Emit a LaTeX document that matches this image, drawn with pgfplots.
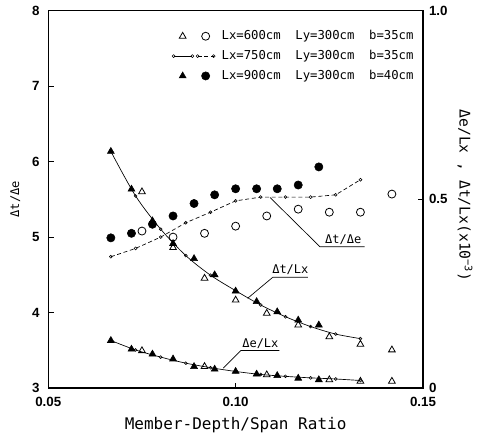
\documentclass[border=0pt]{standalone}
\usepackage{fontspec}
\setmainfont{DejaVu Sans Mono}
\newfontfamily\tickfont{Liberation Sans}
\usepackage{pgfplots}
\pgfplotsset{compat=1.18}
\usepackage{pgfplotstable}

% Delta t / Delta e (left axis)
\pgfplotstableread{
x y
0.0750 5.08
0.0833 5.00
0.0917 5.05
0.1000 5.145
0.1083 5.28
0.1167 5.37
0.1250 5.33
0.1333 5.33
0.1417 5.57
}\ratioA
\pgfplotstableread{
x y
0.0667 4.74
0.0733 4.85
0.0800 5.00
0.0867 5.19
0.0933 5.33
0.1000 5.48
0.1067 5.53
0.1133 5.53
0.1200 5.53
0.1267 5.56
0.1333 5.76
}\ratioB
\pgfplotstableread{
x y
0.0667 4.99
0.0722 5.05
0.0778 5.17
0.0833 5.28
0.0889 5.445
0.0944 5.56
0.1000 5.64
0.1056 5.64
0.1111 5.64
0.1167 5.69
0.1222 5.93
}\ratioC

% Delta t / Lx (right axis, x10^-3)
\pgfplotstableread{
x y
0.0750 0.520
0.0833 0.372
0.0917 0.291
0.1000 0.233
0.1083 0.198
0.1167 0.167
0.1250 0.136
0.1333 0.116
0.1417 0.101
}\dtA
\pgfplotstableread{
x y
0.0667 0.627
0.0733 0.509
0.0800 0.421
0.0867 0.351
0.0933 0.299
0.1000 0.258
0.1067 0.220
0.1133 0.189
0.1200 0.163
0.1267 0.143
0.1333 0.131
}\dtB
\pgfplotstableread{
x y
0.0667 0.627
0.0722 0.527
0.0778 0.443
0.0833 0.383
0.0889 0.343
0.0944 0.300
0.1000 0.257
0.1056 0.229
0.1111 0.202
0.1167 0.180
0.1222 0.167
}\dtC

% Delta e / Lx (right axis, x10^-3)
\pgfplotstableread{
x y
0.0750 0.099
0.0917 0.057
0.1083 0.035
0.1250 0.022
0.1333 0.018
0.1417 0.018
}\deA
\pgfplotstableread{
x y
0.0667 0.126
0.0733 0.101
0.0800 0.082
0.0867 0.066
0.0933 0.054
0.1000 0.044
0.1067 0.036
0.1133 0.031
0.1200 0.027
0.1267 0.024
0.1333 0.020
}\deB
\pgfplotstableread{
x y
0.0667 0.126
0.0722 0.103
0.0778 0.090
0.0833 0.077
0.0889 0.057
0.0944 0.050
0.1000 0.044
0.1056 0.037
0.1111 0.033
0.1167 0.026
0.1222 0.022
}\deC

\tikzset{
  smallc/.style={mark=o, mark size=1.1pt, mark options={solid, fill=white, line width=0.4pt}, line width=0.5pt},
}
\pgfplotsset{
  base/.style={
    scale only axis, width=281pt, height=283pt,
    xmin=0.05, xmax=0.15,
    tick align=inside, major tick length=4pt,
    axis line style={line width=1.1pt},
    every tick/.style={black, line width=0.8pt},
    ticklabel style={font=\tickfont\fontsize{10}{11}\selectfont\bfseries},
  },
  opentri/.style={only marks, mark=triangle, mark size=2.9pt, mark options={fill=white, line width=0.6pt}},
  filltri/.style={only marks, mark=triangle*, mark size=3pt, mark options={fill=black}},
  opencirc/.style={only marks, mark=o, mark size=3pt, mark options={fill=white, line width=0.6pt}},
  fillcirc/.style={only marks, mark=*, mark size=3.1pt, mark options={fill=black}},
}

\begin{document}
\begin{tikzpicture}
\begin{axis}[
  base,
  ymin=3, ymax=8,
  xtick={0.05,0.10,0.15}, xticklabels={0.05,0.10,0.15},
  ytick={3,4,5,6,7,8}, yticklabels={3,4,5,6,7,8},
  xtick pos=bottom, ytick pos=left,
  xticklabel style={yshift=-3pt},
  yticklabel style={xshift=-3pt},
  xlabel={Member-Depth/Span Ratio},
  xlabel style={font=\fontsize{12}{14}\selectfont, at={(axis description cs:0.5,-0.098)}, anchor=center},
  ylabel={Δt/Δe},
  ylabel style={font=\fontsize{9}{11}\selectfont, at={(axis description cs:-0.088,0.5)}, anchor=center},
  legend style={draw=none, fill=none, at={(0.33,0.955)}, anchor=north west,
    font=\fontsize{9.2}{11}\selectfont, row sep=2.4pt, inner sep=0pt},
  legend cell align=left,
]
  \coordinate (bl) at (rel axis cs:0,0);
  \coordinate (tr) at (rel axis cs:1,1);
  \addlegendimage{legend image code/.code={
    \path[draw=none, fill=none] (0pt,-3pt) rectangle (34pt,3pt);
    \draw[mark=triangle, mark size=2.9pt, mark options={line width=0.6pt}] plot coordinates {(6.75pt,0pt)};
    \draw[mark=o, mark size=3pt, mark options={line width=0.6pt}] plot coordinates {(24pt,0pt)};
  }}
  \addlegendentry{Lx=600cm\hspace{11pt}Ly=300cm\hspace{11pt}b=35cm}
  \addlegendimage{legend image code/.code={
    \path[draw=none, fill=none] (0pt,-3pt) rectangle (34pt,3pt);
    \draw[smallc] plot coordinates {(0pt,0pt) (14pt,0pt)};
    \draw[smallc, densely dashed] plot coordinates {(18pt,0pt) (30pt,0pt)};
  }}
  \addlegendentry{Lx=750cm\hspace{11pt}Ly=300cm\hspace{11pt}b=35cm}
  \addlegendimage{legend image code/.code={
    \path[draw=none, fill=none] (0pt,-3pt) rectangle (34pt,3pt);
    \fill[mark=triangle*, mark size=3pt] plot coordinates {(6.75pt,0pt)};
    \fill[mark=*, mark size=3.1pt] plot coordinates {(24pt,0pt)};
  }}
  \addlegendentry{Lx=900cm\hspace{11pt}Ly=300cm\hspace{11pt}b=40cm}

  \addplot[smallc, densely dashed, forget plot] table {\ratioB};
  \addplot[opencirc, forget plot] table {\ratioA};
  \addplot[fillcirc, forget plot] table {\ratioC};

  % leader lines and labels
  \draw[line width=0.5pt] (axis cs:0.1092,5.524) -- (axis cs:0.1225,4.872) -- (axis cs:0.1344,4.872);
  \node[font=\fontsize{9}{11}\selectfont, anchor=south, inner sep=1.5pt] at (axis cs:0.1287,4.872) {Δt/Δe};
  \draw[line width=0.5pt] (axis cs:0.1032,4.189) -- (axis cs:0.1099,4.467) -- (axis cs:0.1193,4.467);
  \node[font=\fontsize{9}{11}\selectfont, anchor=south, inner sep=1.5pt] at (axis cs:0.1146,4.467) {Δt/Lx};
  \draw[line width=0.5pt] (axis cs:0.0967,3.264) -- (axis cs:0.1014,3.498) -- (axis cs:0.1117,3.498);
  \node[font=\fontsize{9}{11}\selectfont, anchor=south, inner sep=1.5pt] at (axis cs:0.1066,3.498) {Δe/Lx};
\end{axis}

\begin{axis}[
  base,
  ymin=0, ymax=1,
  axis x line=none, axis y line*=right,
  ytick={0,0.5,1}, yticklabels={0,0.5,1.0},
  yticklabel style={xshift=1pt},
  ylabel={Δe/Lx , Δt/Lx(x10\textsuperscript{−3})},
  ylabel style={font=\fontsize{11}{13}\selectfont, rotate=180, at={(axis description cs:1.112,0.51)}, anchor=center},
]
  \addplot[smallc, smooth] table {\dtB};
  \addplot[opentri] table {\dtA};
  \addplot[filltri] table {\dtC};
  \addplot[smallc, smooth] table {\deB};
  \addplot[opentri] table {\deA};
  \addplot[filltri] table {\deC};
\end{axis}
\pgfresetboundingbox
\path[use as bounding box] ([shift={(-36.2pt,-39.75pt)}]bl) rectangle ([shift={(42.75pt,8pt)}]tr);
\end{tikzpicture}
\end{document}
